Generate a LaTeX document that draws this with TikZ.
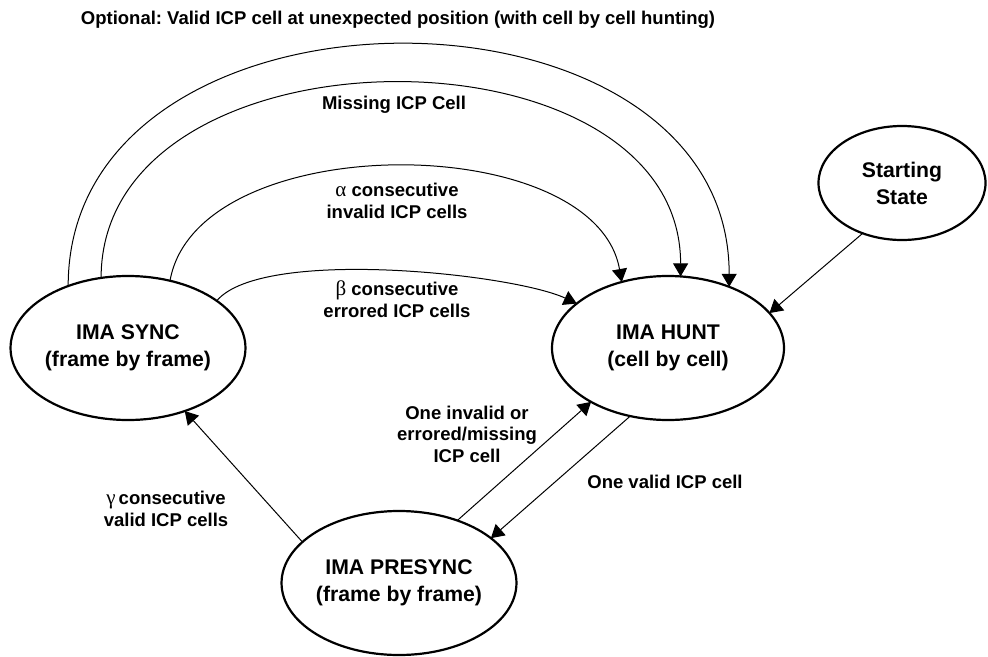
\documentclass[tikz,border=0pt]{standalone}
\usepackage{fontspec}
\setmainfont{Liberation Sans}
\newfontfamily\greek{Liberation Serif}
\usetikzlibrary{arrows.meta,shapes.geometric}
\frenchspacing

\begin{document}
\begin{tikzpicture}[x=1pt,y=-1pt,inner sep=0pt,outer sep=0pt,
	state/.style={ellipse,draw,line width=2.2pt,minimum width=232pt,minimum height=144pt,
		align=center,font=\fontsize{21.2}{27}\selectfont\bfseries},
	lbl/.style={align=center,font=\fontsize{18.5}{21.5}\selectfont\bfseries}]
	\useasboundingbox (0,0) rectangle (988,656);
	\node[state] (sync)  at (128,348) {IMA SYNC\\(frame by frame)};
	\node[state] (hunt)  at (668,348) {IMA HUNT\\(cell by cell)};
	\node[state] (pre)   at (399,583) {IMA PRESYNC\\(frame by frame)};
	\node[state,minimum width=167pt,minimum height=114pt] (start) at (902,183) {Starting\\State};
	\node[lbl] (opt)   at (398,20)  {Optional: Valid ICP cell at unexpected position (with cell by cell hunting)};
	\node[lbl] (miss)  at (394,105) {Missing ICP Cell};
	\node[lbl] (alpha) at (397,201) {{\greek\mdseries\fontsize{21}{21.5}\selectfont α} consecutive\\invalid ICP cells};
	\node[lbl] (beta)  at (397,299) {{\greek\mdseries\fontsize{21}{21.5}\selectfont β} consecutive\\errored ICP cells};
	\node[lbl] (inv)   at (467,434) {One invalid or\\errored/missing\\ICP cell};
	\node[lbl] (val)   at (665,482) {One valid ICP cell};
	\node[lbl] (gamma) at (166,509) {{\greek\mdseries\fontsize{21}{21.5}\selectfont γ}\,consecutive\\valid ICP cells};
	\begin{scope}[line width=1pt,-{Triangle[length=13pt,width=15pt]}]
	\draw (sync.134) to[out=90,in=90,looseness=1.25] (hunt.45);
	\draw (sync.111) to[out=90,in=90,looseness=1.14] (hunt.80);
	\draw (sync.58)  to[out=80,in=100,looseness=0.88] (hunt.125);
	\draw (sync.28)  to[out=50,in=155,looseness=0.5]  (hunt.154);
	\draw (pre.157)  -- (sync.312);
	\draw (pre.47)   -- (hunt.215);
	\draw (hunt.241) -- (pre.26);
	\draw (start.232) -- (hunt.19);
	\end{scope}
\end{tikzpicture}
\end{document}
